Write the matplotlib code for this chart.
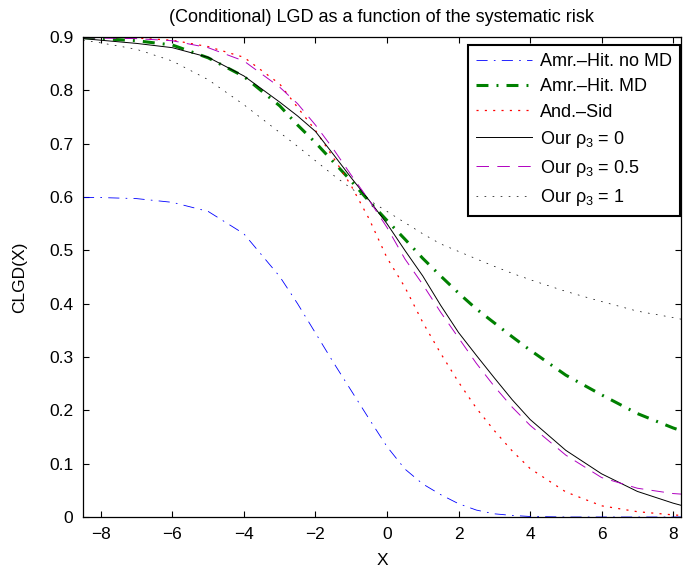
import matplotlib
matplotlib.use("Agg")
import matplotlib.pyplot as plt

plt.rcParams['font.family'] = ['Liberation Sans', 'DejaVu Sans']
plt.rcParams['mathtext.fontset'] = 'custom'
plt.rcParams['mathtext.rm'] = 'Liberation Sans'
plt.rcParams['mathtext.it'] = 'Liberation Sans'
plt.rcParams['lines.scale_dashes'] = False

# values
x = [-8.5, -8, -7, -6, -5, -4, -3, -2.5, -2, -1.5, -1, -0.5, 0,
     0.5, 1, 1.5, 2, 2.5, 3, 3.5, 4, 5, 6, 7, 8, 8.22]

amr_no_md = [0.599, 0.599, 0.597, 0.590, 0.573, 0.531, 0.451, 0.400, 0.345, 0.290,
             0.237, 0.184, 0.132, 0.090, 0.062, 0.042, 0.025, 0.013, 0.006, 0.003,
             0.001, 0.0, 0.0, 0.0, 0.0, 0.0]
amr_md = [0.899, 0.897, 0.893, 0.885, 0.861, 0.826, 0.771, 0.735, 0.702, 0.666,
          0.630, 0.592, 0.556, 0.521, 0.485, 0.452, 0.420, 0.390, 0.364, 0.338,
          0.313, 0.266, 0.229, 0.194, 0.167, 0.162]
and_sid = [0.900, 0.900, 0.898, 0.894, 0.882, 0.862, 0.812, 0.768, 0.725, 0.674,
           0.621, 0.559, 0.486, 0.431, 0.365, 0.307, 0.253, 0.204, 0.162, 0.124,
           0.091, 0.047, 0.021, 0.010, 0.004, 0.003]
our_rho0 = [0.897, 0.894, 0.888, 0.880, 0.862, 0.827, 0.778, 0.752, 0.723, 0.680,
            0.636, 0.594, 0.550, 0.500, 0.452, 0.397, 0.346, 0.303, 0.261, 0.220,
            0.183, 0.125, 0.081, 0.048, 0.026, 0.022]
our_rho05 = [0.899, 0.898, 0.897, 0.893, 0.880, 0.855, 0.806, 0.775, 0.735, 0.690,
             0.641, 0.594, 0.543, 0.484, 0.436, 0.384, 0.336, 0.288, 0.245, 0.206,
             0.172, 0.116, 0.074, 0.054, 0.044, 0.043]
our_rho1 = [0.894, 0.889, 0.877, 0.855, 0.820, 0.773, 0.721, 0.695, 0.668, 0.641,
            0.616, 0.594, 0.573, 0.552, 0.531, 0.512, 0.498, 0.484, 0.470, 0.457,
            0.445, 0.423, 0.404, 0.386, 0.374, 0.371]

labels = ['Amr.\u2013Hit. no MD', 'Amr.\u2013Hit. MD', 'And.\u2013Sid',
          r'Our $\rho_3$ = 0', r'Our $\rho_3$ = 0.5', r'Our $\rho_3$ = 1']

fig = plt.figure(figsize=(6.84, 5.73), dpi=100)
ax = fig.add_axes([0.1213, 0.0977, 0.8743, 0.8377])

ax.plot(x, amr_no_md, color='blue', lw=0.6, dashes=(8, 4.5, 1.2, 4.5), label=labels[0])
ax.plot(x, amr_md, color='green', lw=2.2, dashes=(8.6, 5.8, 1.4, 5.8), label=labels[1])
ax.plot(x, and_sid, color='red', lw=0.9, dashes=(1.5, 4.5), label=labels[2])
ax.plot(x, our_rho0, color='black', lw=0.7, label=labels[3])
ax.plot(x, our_rho05, color='#b000c0', lw=0.7, dashes=(9, 6), label=labels[4])
ax.plot(x, our_rho1, color='black', lw=0.5, dashes=(1.2, 4.6), label=labels[5])

ax.set_xlim(-8.5, 8.22)
ax.set_ylim(0, 0.9)
ax.set_xticks(range(-8, 9, 2))
ax.set_yticks([i / 10 for i in range(10)])
ax.set_yticklabels(['0'] + ['0.%d' % i for i in range(1, 10)])
ax.tick_params(direction='in', top=True, right=True, labelsize=12.5, length=4,
               width=0.8, pad=7)
for s in ax.spines.values():
    s.set_linewidth(0.9)

ax.set_xlabel('X', fontsize=12.5, labelpad=8)
ax.set_ylabel('CLGD(X)', fontsize=12.5, labelpad=16)
ax.set_title('(Conditional) LGD as a function of the systematic risk', fontsize=13, pad=11)

leg = ax.legend(loc='upper right', bbox_to_anchor=(0.998, 0.983), fontsize=13,
                handlelength=3.1, handletextpad=0.4, labelspacing=0.45,
                borderpad=0.45, fancybox=False, framealpha=1, edgecolor='black',
                borderaxespad=0)
leg.get_frame().set_linewidth(1.5)

fig.savefig('out.png', dpi=100)
